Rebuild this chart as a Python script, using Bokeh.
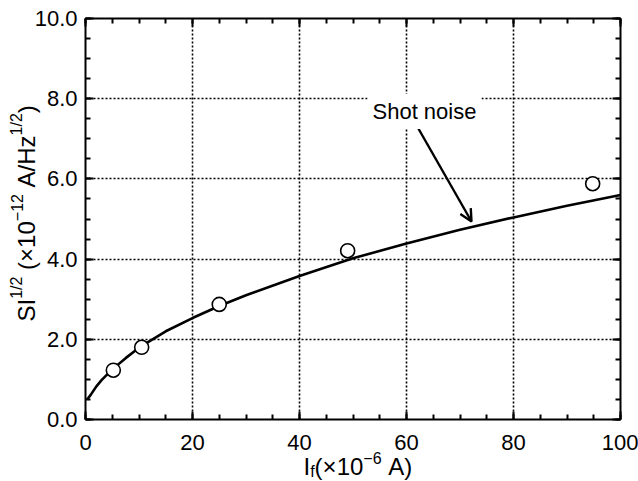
import math
from bokeh.plotting import figure
from bokeh.models import (Range1d, SingleIntervalTicker, NumeralTickFormatter, LinearAxis,
                          CustomJSTickFormatter, Label, Arrow, OpenHead, Grid)
from bokeh.embed import file_html
from bokeh.resources import INLINE

# ---- data ----
curve_x = [0.3, 1, 2, 3, 5, 7.5, 10, 15, 20, 25, 30, 40, 50, 60, 70, 80, 90, 100]
curve_y = [0.50, 0.62, 0.82, 0.98, 1.25, 1.53, 1.79, 2.20, 2.53, 2.83, 3.10, 3.58, 4.02, 4.39, 4.73, 5.04, 5.33, 5.60]
meas_x = [5.2, 10.5, 25.0, 49.0, 94.8]
meas_y = [1.23, 1.80, 2.87, 4.21, 5.88]
x_min, x_max = 0, 100
y_min, y_max = 0, 10
x_ticks_interval = 20
y_ticks_interval = 2
annotation_text = "Shot noise"

FONT = "Liberation Sans"

# plot-area geometry on the canvas (pixels)
W, H = 638, 481
FL, FR, FT, FB = 85, 620, 18, 419
sx = (FR - FL) / (x_max - x_min)
sy = (FB - FT) / (y_max - y_min)
BASE_FIX = 7  # bokeh draws "alphabetic" text about this much lower

def dx(px):
    return x_min + (px - FL) / sx

def dy(py):
    return y_min + (FB - py) / sy

p = figure(width=W, height=H, output_backend="svg", toolbar_location=None,
           x_range=Range1d(dx(0), dx(W)), y_range=Range1d(dy(H), dy(0)),
           x_axis_location=None, y_axis_location=None,
           min_border=0, min_border_left=0, min_border_right=0, min_border_top=0, min_border_bottom=0)
p.center = []
p.background_fill_color = "white"
p.border_fill_color = "white"
p.outline_line_color = None

def style_axis(ax):
    ax.axis_line_width = 2
    ax.axis_line_color = "black"
    ax.major_tick_in = 8
    ax.major_tick_out = 0
    ax.minor_tick_in = 5
    ax.minor_tick_out = 0
    ax.major_tick_line_width = 2
    ax.minor_tick_line_width = 2
    ax.major_label_text_font = FONT
    ax.major_label_text_font_size = "22px"
    ax.major_label_text_color = "black"

bottom = LinearAxis(ticker=SingleIntervalTicker(interval=x_ticks_interval, num_minor_ticks=4),
                    fixed_location=y_min, bounds=(x_min, x_max))
left = LinearAxis(ticker=SingleIntervalTicker(interval=y_ticks_interval, num_minor_ticks=4),
                  fixed_location=x_min, bounds=(y_min, y_max),
                  formatter=NumeralTickFormatter(format="0.0"))
empty = CustomJSTickFormatter(code="return ''")
top = LinearAxis(ticker=SingleIntervalTicker(interval=x_ticks_interval, num_minor_ticks=4),
                 fixed_location=y_max, bounds=(x_min, x_max), formatter=empty)
right = LinearAxis(ticker=SingleIntervalTicker(interval=y_ticks_interval, num_minor_ticks=4),
                   fixed_location=x_max, bounds=(y_min, y_max), formatter=empty)
for ax in (bottom, left, top, right):
    style_axis(ax)
bottom.major_label_standoff = 15
left.major_label_standoff = 8
top.major_label_standoff = 0
right.major_label_standoff = 0
top.major_label_text_font_size = "1px"
right.major_label_text_font_size = "1px"

# grid (dotted)
xg = Grid(dimension=0, ticker=SingleIntervalTicker(interval=x_ticks_interval),
          bounds=(x_min + 1, x_max - 1), cross_bounds=(y_min, y_max))
yg = Grid(dimension=1, ticker=SingleIntervalTicker(interval=y_ticks_interval),
          bounds=(y_min + 0.1, y_max - 0.1), cross_bounds=(x_min, x_max))
for g in (xg, yg):
    g.grid_line_color = "black"
    g.grid_line_dash = "2 2"
    g.grid_line_width = 1.6
    p.add_layout(g)

p.add_layout(bottom, "below")
p.add_layout(left, "left")
p.add_layout(top, "above")
p.add_layout(right, "right")

# curve and measured points
p.line(curve_x, curve_y, line_color="black", line_width=2.6)
p.scatter(meas_x, meas_y, size=14, marker="circle", fill_color="white",
          line_color="black", line_width=1.6)

# annotation
p.add_layout(Arrow(end=OpenHead(size=12, line_width=2.4, line_color="black"),
                   x_start=dx(415), y_start=dy(123), x_end=dx(471), y_end=dy(221),
                   line_width=2.4, line_color="black"))
p.add_layout(Label(x=dx(367), y=dy(118 - BASE_FIX), text=annotation_text, text_font=FONT,
                   text_font_size="22px", text_color="black", text_baseline="alphabetic",
                   text_align="left", background_fill_color="white", background_fill_alpha=1.0,
                   padding=5))

# character widths (Arial / Liberation Sans metrics, em)
CW = {"S": .667, "I": .278, "1": .556, "2": .556, "/": .278, " ": .278, "(": .333, ")": .333,
      "×": .584, "0": .556, "−": .584, "A": .667, "H": .722, "z": .5, "f": .278, "6": .556}

def tw(s, size):
    return sum(CW.get(c, .556) for c in s) * size

MAIN, SUP = 24, 16

# y-axis title (rotated), composed of pieces: (text, size, raised)
ypieces = [("SI", MAIN, 0), ("1/2", SUP, 1), (" (×10", MAIN, 0), ("−12", SUP, 1),
           (" A/Hz", MAIN, 0), ("1/2", SUP, 1), (")", MAIN, 0)]
ypos = 321.0            # canvas pixel (from top) where the title starts
ybase = 33.0 - BASE_FIX  # canvas pixel x of the baseline
for txt, sz, sup in ypieces:
    lead = len(txt) - len(txt.lstrip(" "))
    ypos -= tw(" " * lead, sz)
    t = txt.strip(" ")
    p.add_layout(Label(x=dx(ybase - (10 if sup else 0)), y=dy(ypos), text=t,
                       angle=math.pi / 2, text_font=FONT, text_font_size=f"{sz}px",
                       text_color="black", text_align="left", text_baseline="alphabetic"))
    ypos -= tw(t, sz)

# x-axis title, composed of pieces: (text, size, shift) shift 1=super, -1=sub
xpieces = [("I", MAIN, 0), ("f", SUP, -1), ("(×10", MAIN, 0), ("−6", SUP, 1), (" A)", MAIN, 0)]
xpos = 303.0
xbase = 473.0 - BASE_FIX
for txt, sz, sh in xpieces:
    lead = len(txt) - len(txt.lstrip(" "))
    xpos += tw(" " * lead, sz)
    t = txt.strip(" ")
    ypx = xbase - 9 if sh > 0 else (xbase + 5 if sh < 0 else xbase)
    p.add_layout(Label(x=dx(xpos), y=dy(ypx), text=t,
                       text_font=FONT, text_font_size=f"{sz}px",
                       text_color="black", text_align="left", text_baseline="alphabetic"))
    xpos += tw(t, sz)

open("out.html", "w").write(file_html(p, INLINE))
